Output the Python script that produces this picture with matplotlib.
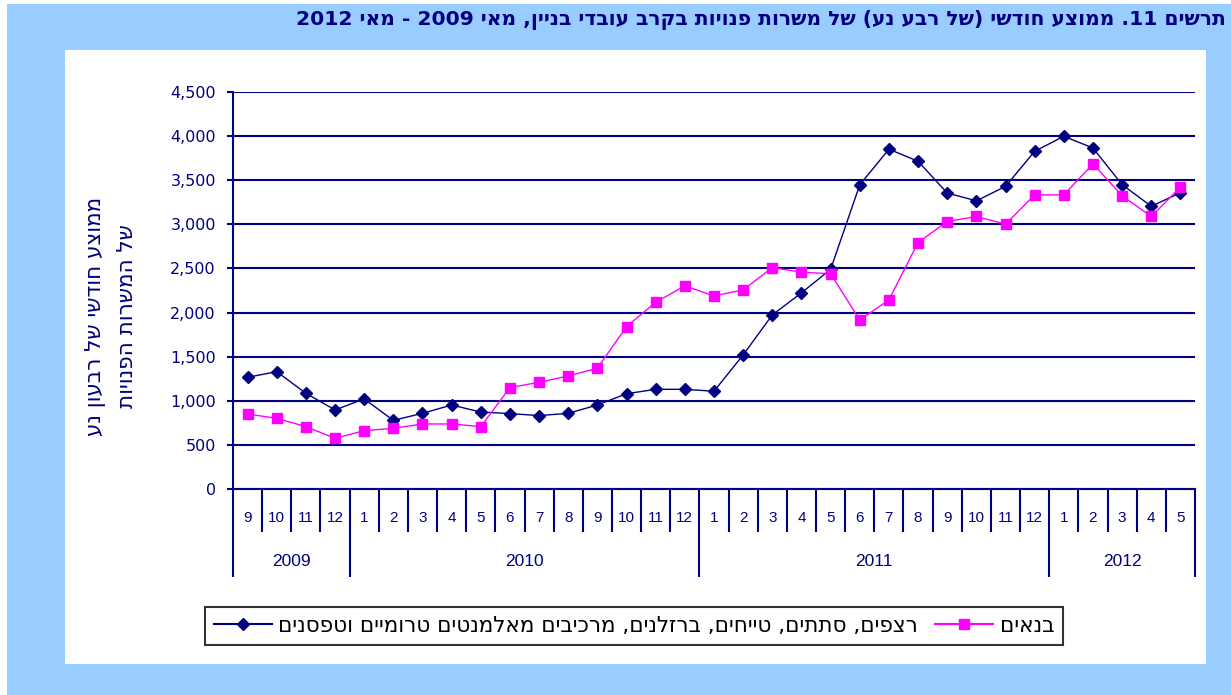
import re
import matplotlib
matplotlib.use('Agg')
import matplotlib.pyplot as plt
from matplotlib.patches import Rectangle
from matplotlib.lines import Line2D

plt.rcParams['font.family'] = ['DejaVu Sans']

# ---------------- data ----------------
month_labels = ['9', '10', '11', '12',
                '1', '2', '3', '4', '5', '6', '7', '8', '9', '10', '11', '12',
                '1', '2', '3', '4', '5', '6', '7', '8', '9', '10', '11', '12',
                '1', '2', '3', '4', '5']
year_labels = ['2009', '2010', '2011', '2012']
year_counts = [4, 12, 12, 5]

# navy series: tilers, stonemasons, plasterers, steel fixers, precast assemblers, formwork
finishers = [1266, 1330, 1085, 896, 1021, 778, 858, 952, 872, 855, 832, 858, 952,
             1080, 1130, 1130, 1108, 1520, 1973, 2223, 2490, 3447, 3852, 3715,
             3355, 3266, 3430, 3828, 3998, 3865, 3450, 3205, 3358]
# magenta series: builders
builders = [850, 801, 707, 575, 661, 688, 737, 737, 707, 1149, 1210, 1281, 1369,
            1841, 2117, 2302, 2189, 2257, 2510, 2457, 2440, 1916, 2143, 2794,
            3032, 3089, 3002, 3334, 3334, 3685, 3323, 3089, 3421]

yticks = [0, 500, 1000, 1500, 2000, 2500, 3000, 3500, 4000, 4500]

title_text = 'תרשים 11. ממוצע חודשי (של רבע נע) של משרות פנויות בקרב עובדי בניין, מאי 2009 - מאי 2012'
ylabel_1 = 'ממוצע חודשי של רבעון נע'
ylabel_2 = 'של המשרות הפנויות'
name_finishers = 'רצפים, סתתים, טייחים, ברזלנים, מרכיבים מאלמנטים טרומיים וטפסנים'
name_builders = 'בנאים'


def vis(s):
    """Simple visual reordering of RTL Hebrew text with embedded numbers."""
    toks = re.findall(r'[0-9A-Za-z]+(?:[.,][0-9]+)*|.', s)
    mirror = {'(': ')', ')': '('}
    return ''.join(mirror.get(t, t) for t in reversed(toks))


NAVY = '#000080'
MAG = '#FF00FF'
W, H = 1231, 695

fig = plt.figure(figsize=(W / 100, H / 100), dpi=100)
fig.patch.set_facecolor('#99CCFF')

# white borders and panel
fig.add_artist(Rectangle((0, 0), 7 / W, 1, transform=fig.transFigure,
                         facecolor='white', edgecolor='none', zorder=0))
fig.add_artist(Rectangle((0, 1 - 4 / H), 1, 4 / H, transform=fig.transFigure,
                         facecolor='white', edgecolor='none', zorder=0))
fig.add_artist(Rectangle((65 / W, 1 - 664 / H), (1206 - 65) / W, (664 - 50) / H,
                         transform=fig.transFigure, facecolor='white',
                         edgecolor='none', zorder=0))

ax = fig.add_axes([233 / W, 1 - 489 / H, (1195 - 233) / W, 397 / H])
ax.set_facecolor('white')
n = len(month_labels)
x = list(range(n))
ax.set_xlim(-0.5, n - 0.5)
ax.set_ylim(0, 4500)
ax.set_yticks(yticks)
ax.set_yticklabels([f'{v:,}' for v in yticks])
ax.set_xticks([])
for s in ['top', 'right']:
    ax.spines[s].set_visible(False)
for s in ['left', 'bottom']:
    ax.spines[s].set_color(NAVY)
    ax.spines[s].set_linewidth(1.5)
ax.tick_params(axis='y', length=4.3, width=1.5, color=NAVY, pad=8,
               labelsize=11.5, labelcolor=NAVY)
ax.yaxis.grid(True, color=NAVY, linewidth=1.5)
ax.set_axisbelow(True)

# category axis: separators and labels
xform = ax.get_xaxis_transform()
month_bottom = (489 - 532) / 397
year_bottom = (489 - 577) / 397
year_bounds = [-0.5]
acc = -0.5
for c in year_counts:
    acc += c
    year_bounds.append(acc)
for i in range(n + 1):
    b = i - 0.5
    bottom = year_bottom if b in year_bounds else month_bottom
    ax.plot([b, b], [0, bottom], transform=xform, color=NAVY, lw=1.5,
            clip_on=False, solid_capstyle='butt')
for i, lab in enumerate(month_labels):
    ax.text(i, (489 - 518) / 397, lab, transform=xform, ha='center', va='center',
            fontsize=11, color=NAVY, family='Liberation Sans')
start = 0
for lab, c in zip(year_labels, year_counts):
    ax.text(start + (c - 1) / 2, (489 - 562) / 397, lab, transform=xform,
            ha='center', va='center', fontsize=12.5, color=NAVY,
            family='Liberation Sans')
    start += c

# series
ax.plot(x, finishers, color=NAVY, lw=1, marker='D', ms=6.5, mec=NAVY, mfc=NAVY,
        clip_on=False, zorder=3)
ax.plot(x, builders, color=MAG, lw=1, marker='s', ms=7, mec=MAG, mfc=MAG,
        clip_on=False, zorder=4)

# title
fig.text(1226 / W, 1 - 20 / H, vis(title_text), ha='right', va='center',
         fontsize=14.6, fontweight='bold', color=NAVY)

# y label (two lines)
fig.text(96 / W, 1 - 316 / H, vis(ylabel_1), rotation=90, ha='center',
         va='center', fontsize=15.5, color=NAVY)
fig.text(127 / W, 1 - 316 / H, vis(ylabel_2), rotation=90, ha='center',
         va='center', fontsize=15.5, color=NAVY)

# legend
h1 = Line2D([], [], color=NAVY, lw=1.5, marker='D', ms=6.5)
h2 = Line2D([], [], color=MAG, lw=1.5, marker='s', ms=7)
leg = fig.legend([h1, h2], [vis(name_finishers), vis(name_builders)], ncol=2,
                 loc='center', bbox_to_anchor=((205 + 1063) / 2 / W, 1 - 626 / H),
                 frameon=True, fancybox=False, edgecolor='black', fontsize=15.5,
                 handlelength=2.7, handletextpad=0.3, columnspacing=0.8,
                 borderpad=0.4)
leg.get_frame().set_linewidth(1.5)

fig.savefig('out.png', dpi=100, facecolor=fig.get_facecolor())
